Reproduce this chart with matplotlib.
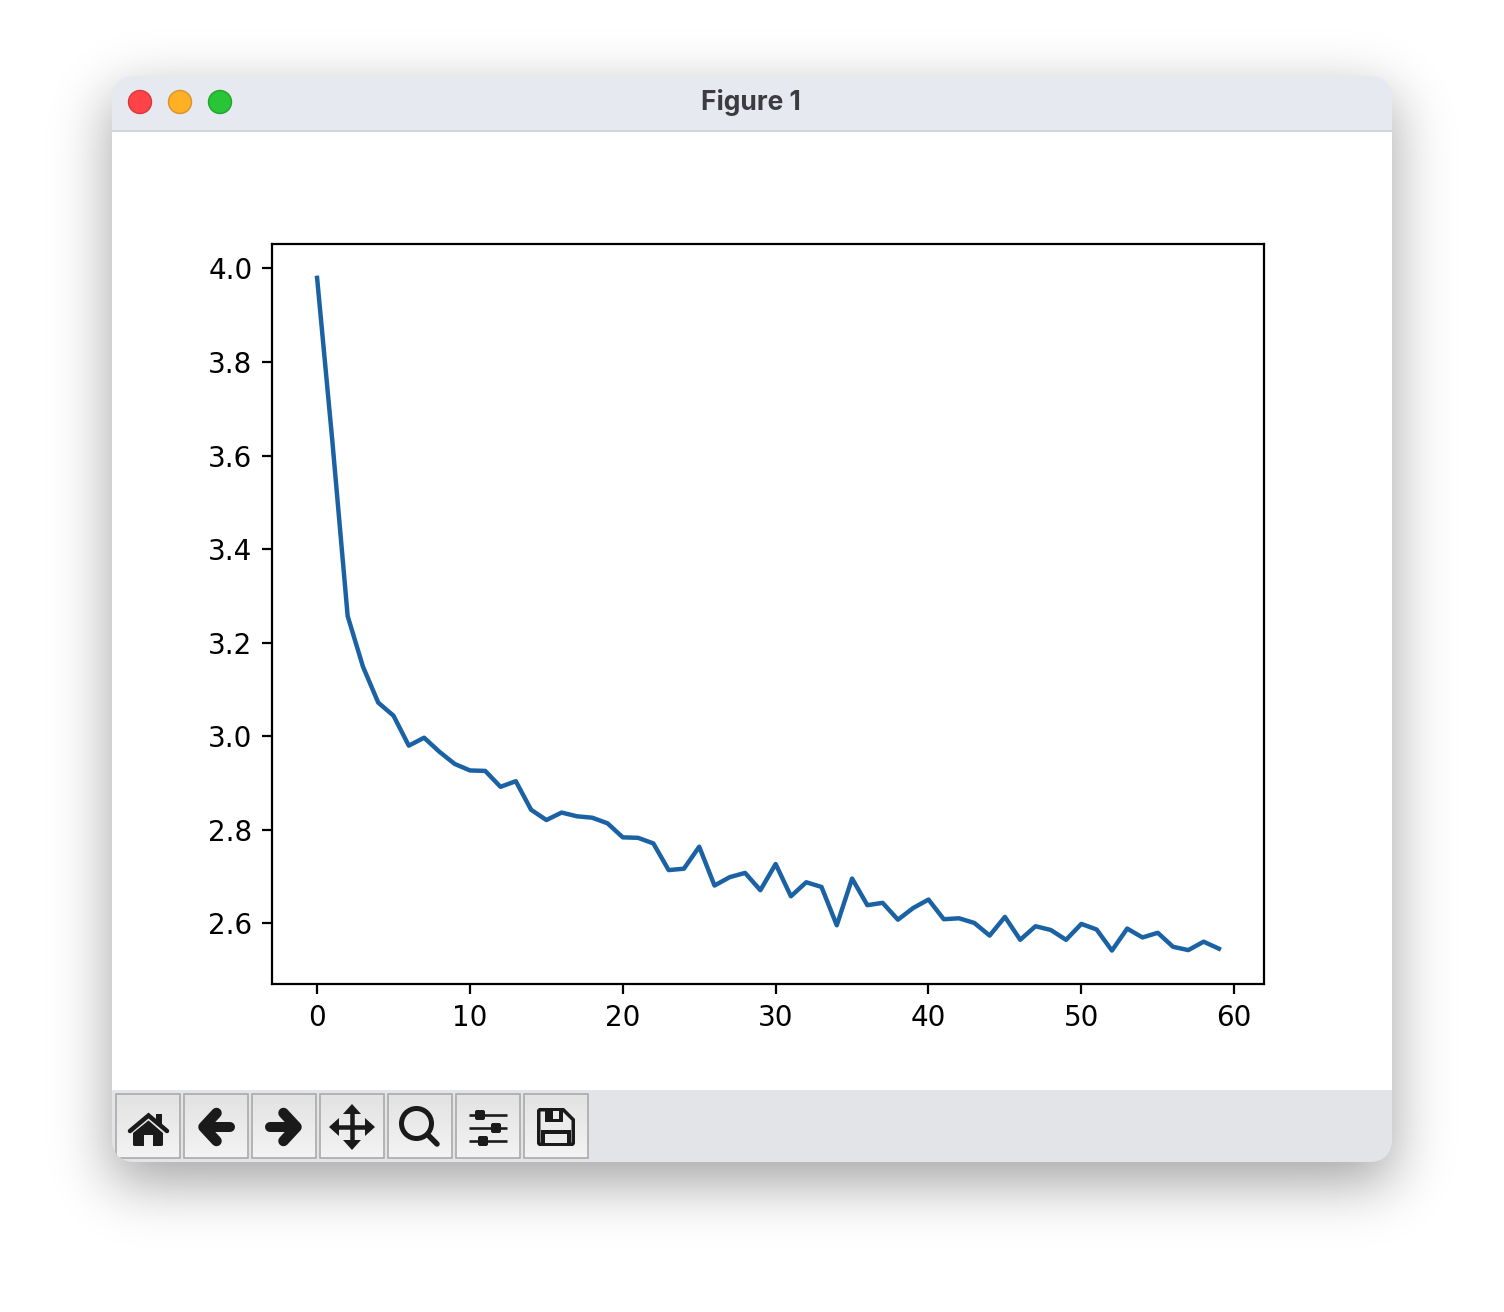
import math
import matplotlib
matplotlib.use('Agg')
from matplotlib import pyplot as plt
from matplotlib.patches import FancyBboxPatch, Rectangle, Circle, Polygon
import numpy as np

# loss per epoch
epochs = list(range(60))
loss = [3.98, 3.63, 3.257, 3.149, 3.072, 3.044, 2.980, 2.997, 2.967, 2.941,
        2.927, 2.926, 2.892, 2.904, 2.843, 2.821, 2.837, 2.829, 2.826, 2.814,
        2.784, 2.783, 2.771, 2.714, 2.717, 2.764, 2.681, 2.699, 2.708, 2.671,
        2.727, 2.658, 2.688, 2.678, 2.596, 2.696, 2.639, 2.644, 2.608, 2.633,
        2.651, 2.609, 2.611, 2.601, 2.574, 2.614, 2.565, 2.594, 2.586, 2.565,
        2.599, 2.587, 2.542, 2.589, 2.570, 2.580, 2.550, 2.543, 2.561, 2.546]
window_title = 'Figure 1'

W, H = 1504, 1312
PX = 72 / 200  # one pixel in points

fig = plt.figure(figsize=(W / 200, H / 200), dpi=200, facecolor='white')

# everything around the plot (window, shadow, toolbar) in pixel coords
bg = fig.add_axes([0, 0, 1, 1])
bg.set_axis_off()


def blur_edge(n, a, b, sigma):
    # box from a to b blurred with a gaussian, one direction only
    erf = np.vectorize(math.erf)
    t = np.arange(n) + 0.5
    return 0.5 * (erf((t - a) / (sigma * 2 ** 0.5)) - erf((t - b) / (sigma * 2 ** 0.5)))


# shadow
shade = np.outer(blur_edge(H, 96, 1182, 29), blur_edge(W, 112, 1392, 29))
bg.imshow(1 - 0.37 * shade, extent=(0, W, H, 0), aspect='auto', cmap='gray', vmin=0, vmax=1,
          interpolation='nearest', zorder=1)

win = FancyBboxPatch((136, 100), 1232, 1038, boxstyle='round,pad=24,rounding_size=24',
                     linewidth=0, facecolor='#e6e9f0', zorder=2)
bg.add_patch(win)

for y0, y1, c in [(76, 130, '#e6e9f0'), (130, 132, '#d4d4d6'), (132, 1090, 'white'), (1090, 1162, '#e2e4e8')]:
    r = Rectangle((112, y0), 1280, y1 - y0, facecolor=c, linewidth=0, zorder=3)
    bg.add_patch(r)
    r.set_clip_path(win)

for cx, c, e in [(140, '#ff4347', '#d8383c'), (180, '#ffb024', '#d8932a'), (220, '#28c536', '#22a32d')]:
    bg.add_patch(Circle((cx, 102), 11.5, facecolor=c, edgecolor=e, linewidth=0.5, zorder=4))

bg.text(750.5, 102.5, window_title, ha='center', va='center', fontsize=9.5, fontweight='bold',
        family='Inter', color='#3c3c40', zorder=4)

# toolbar buttons, light grey gradient
grad = np.linspace(0.885, 0.95, 64).reshape(-1, 1)
for bx in [116, 184, 252, 320, 388, 456, 524]:
    im = bg.imshow(grad, extent=(bx, bx + 64, 1158, 1094), aspect='auto', cmap='gray',
                   vmin=0, vmax=1, zorder=4)
    im.set_clip_path(win)
    edge = Rectangle((bx, 1094), 63.5, 63.5, facecolor='none', edgecolor='#a8a8a8',
                     linewidth=1.6 * PX, zorder=5)
    bg.add_patch(edge)
    edge.set_clip_path(win)

ink = '#1a1a1a'
paper = '#ececec'


def seg(xs, ys, w, cap='round', join='round'):
    bg.plot(xs, ys, color=ink, linewidth=w * PX, solid_capstyle=cap, solid_joinstyle=join, zorder=6)


def poly(pts, fc=ink):
    bg.add_patch(Polygon(pts, closed=True, facecolor=fc, edgecolor='none', zorder=6))


# home
seg([130, 148.5, 167], [1131, 1115.5, 1131], 4.5, cap='round', join='miter')
poly([(133, 1133), (148.5, 1120.5), (163, 1133), (163, 1145), (162, 1146), (153, 1146), (153, 1135), (144, 1135), (144, 1146), (134, 1146), (133, 1145)])
poly([(156, 1114), (162, 1114), (162, 1127), (156, 1122)])
# back
seg([204, 230], [1127, 1127], 10)
seg([216.5, 203.5, 216.5], [1113, 1127, 1141], 10.5)
# forward
seg([270, 296], [1127, 1127], 10)
seg([283.5, 296.5, 283.5], [1113, 1127, 1141], 10.5)
# move
seg([352, 352], [1110, 1144], 4.5, cap='butt')
seg([335, 369], [1127, 1127], 4.5, cap='butt')
poly([(352, 1104), (361, 1114), (343, 1114)])
poly([(352, 1150), (361, 1140), (343, 1140)])
poly([(329, 1127), (339, 1118), (339, 1136)])
poly([(375, 1127), (365, 1118), (365, 1136)])
# zoom
bg.add_patch(Circle((416.5, 1123.5), 15, facecolor='none', edgecolor=ink, linewidth=5 * PX, zorder=6))
seg([428, 437], [1135, 1144], 5.5)
# sliders
for sy, kx in [(1115, 480), (1128, 496), (1141, 483)]:
    seg([469, 507], [sy, sy], 2.6, cap='butt')
    bg.add_patch(FancyBboxPatch((kx - 3.5, sy - 3.5), 7, 7, boxstyle='round,pad=1.5,rounding_size=2',
                                facecolor=ink, linewidth=0, zorder=6))
# save
poly([(537, 1110), (539, 1108), (564, 1108), (575, 1119), (575, 1144), (573, 1146), (539, 1146), (537, 1144)])
poly([(540.5, 1111.5), (562.5, 1111.5), (571.5, 1120.5), (571.5, 1142.5), (540.5, 1142.5)], fc=paper)
poly([(545, 1110), (563, 1110), (563, 1122), (545, 1122)])
poly([(553, 1111), (559, 1111), (559, 1119), (553, 1119)], fc=paper)
poly([(541, 1130), (571, 1130), (571, 1144), (541, 1144)])
poly([(545, 1133.5), (567, 1133.5), (567, 1142.5), (545, 1142.5)], fc=paper)

bg.set_xlim(0, W)
bg.set_ylim(H, 0)

# the actual plot
ax = fig.add_axes([272 / W, (H - 984.2) / H, 992 / W, 740 / H], zorder=10)
ax.plot(epochs, loss, color='#1b62a5', linewidth=1.6)

plt.savefig('out.png', dpi=200)
